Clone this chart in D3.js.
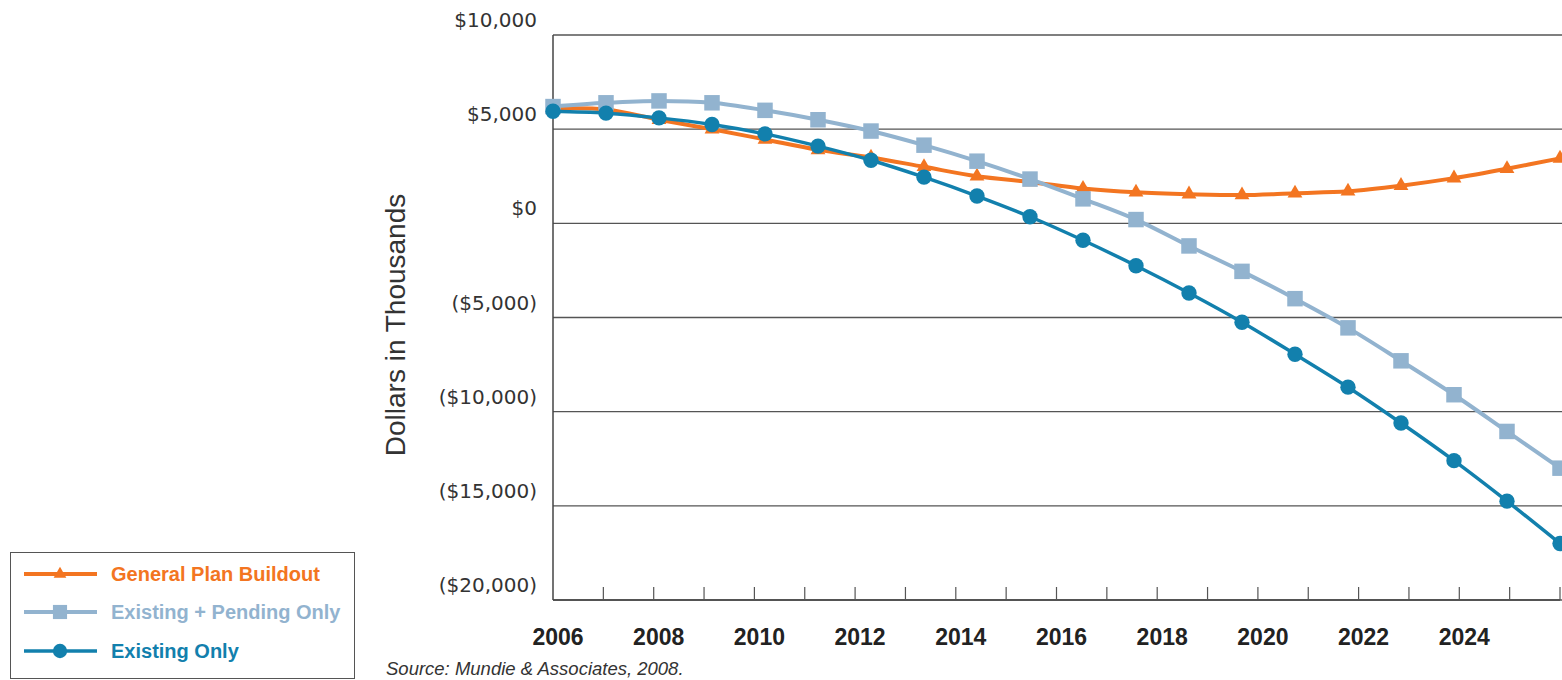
<!DOCTYPE html>
<html>
<head>
<meta charset="utf-8">
<script src="https://cdn.jsdelivr.net/npm/d3@7"></script>
<style>
  body { margin: 0; background: #fff; }
  svg { display: block; }
</style>
</head>
<body>
<div id="chart"></div>
<script>
// données (milliers de dollars)
const years = d3.range(2006, 2026);
const generalPlan = [6100, 6050, 5500, 5000, 4450, 3900, 3500, 3000, 2500, 2200,
                     1850, 1650, 1550, 1500, 1600, 1700, 2000, 2400, 2900, 3450];
const existingPending = [6200, 6400, 6500, 6400, 6000, 5500, 4900, 4150, 3300, 2350,
                         1300, 200, -1200, -2550, -4000, -5550, -7300, -9100, -11050, -13000];
const existingOnly = [5950, 5850, 5600, 5250, 4750, 4100, 3350, 2450, 1450, 350,
                      -900, -2250, -3700, -5250, -6950, -8700, -10600, -12600, -14750, -17000];
const yTicks = [10000, 5000, 0, -5000, -10000, -15000, -20000];
const yearLabels = [2006, 2008, 2010, 2012, 2014, 2016, 2018, 2020, 2022, 2024];

const series = [
  { name: 'General Plan Buildout', values: generalPlan, color: '#f37521', symbol: d3.symbolTriangle, size: 95, legendSize: 70, width: 4 },
  { name: 'Existing + Pending Only', values: existingPending, color: '#92b3cf', symbol: d3.symbolSquare, size: 240, legendSize: 200, width: 4 },
  { name: 'Existing Only', values: existingOnly, color: '#1280ad', symbol: d3.symbolCircle, size: 185, legendSize: 160, width: 3.5 }
];

const W = 1562, H = 680;
const plotL = 553, plotR = 1560, plotT = 35, plotB = 600;

const svg = d3.select('#chart').append('svg')
    .attr('width', W)
    .attr('height', H);

// échelles
const x = d3.scalePoint().domain(years).range([plotL, plotR]);
const xTick = d3.scaleLinear().domain([2006, 2026]).range([plotL, plotR]);
const y = d3.scaleLinear().domain([-20000, 10000]).range([plotB, plotT]);

const fmt = v => v < 0 ? `($${d3.format(',')(-v)})` : `$${d3.format(',')(v)}`;

// grille horizontale
svg.append('g')
  .selectAll('line')
  .data(yTicks)
  .enter().append('line')
    .attr('x1', plotL).attr('x2', W)
    .attr('y1', d => y(d)).attr('y2', d => y(d))
    .attr('stroke', '#555')
    .attr('stroke-width', 1.4);

// axe vertical
svg.append('line')
  .attr('x1', plotL).attr('x2', plotL)
  .attr('y1', plotT).attr('y2', plotB)
  .attr('stroke', '#444')
  .attr('stroke-width', 1.5);

// axe horizontal avec graduations vers le haut
svg.append('line')
  .attr('x1', plotL).attr('x2', plotR)
  .attr('y1', plotB).attr('y2', plotB)
  .attr('stroke', '#444')
  .attr('stroke-width', 1.5);

svg.append('g')
  .selectAll('line')
  .data(d3.range(2007, 2027))
  .enter().append('line')
    .attr('x1', d => xTick(d)).attr('x2', d => xTick(d))
    .attr('y1', plotB).attr('y2', plotB - 13)
    .attr('stroke', '#555')
    .attr('stroke-width', 1.2);

// étiquettes Y
svg.append('g')
  .selectAll('text')
  .data(yTicks)
  .enter().append('text')
    .attr('x', 537)
    .attr('y', d => y(d) - 8)
    .attr('text-anchor', 'end')
    .attr('font-family', 'DejaVu Sans')
    .attr('font-size', 20)
    .attr('fill', '#333')
    .text(fmt);

// titre Y
svg.append('text')
  .attr('transform', 'translate(405, 325) rotate(-90)')
  .attr('text-anchor', 'middle')
  .attr('font-family', 'Liberation Sans')
  .attr('font-size', 28)
  .attr('fill', '#333')
  .text('Dollars in Thousands');

// années
svg.append('g')
  .selectAll('text')
  .data(yearLabels)
  .enter().append('text')
    .attr('x', d => xTick(d) + 5)
    .attr('y', 645)
    .attr('text-anchor', 'middle')
    .attr('font-family', 'Liberation Sans')
    .attr('font-weight', 'bold')
    .attr('font-size', 23)
    .attr('fill', '#222')
    .text(d => d);

// lignes et marqueurs
const line = d3.line()
  .x((d, i) => x(years[i]))
  .y(d => y(d))
  .curve(d3.curveCatmullRom);

series.forEach(s => {
  const g = svg.append('g');
  g.append('path')
    .attr('d', line(s.values))
    .attr('fill', 'none')
    .attr('stroke', s.color)
    .attr('stroke-width', s.width);
  g.selectAll('path.pt')
    .data(s.values)
    .enter().append('path')
      .attr('class', 'pt')
      .attr('transform', (d, i) => `translate(${x(years[i])},${y(d)})`)
      .attr('d', d3.symbol().type(s.symbol).size(s.size))
      .attr('fill', s.color);
});

// légende
const legend = svg.append('g');
legend.append('rect')
  .attr('x', 10.5).attr('y', 552.5)
  .attr('width', 344).attr('height', 126)
  .attr('fill', '#fff')
  .attr('stroke', '#555')
  .attr('stroke-width', 1);

const legendY = [574, 612, 651];
series.forEach((s, i) => {
  const ly = legendY[i];
  legend.append('line')
    .attr('x1', 24).attr('x2', 97)
    .attr('y1', ly).attr('y2', ly)
    .attr('stroke', s.color)
    .attr('stroke-width', s.width);
  legend.append('path')
    .attr('transform', `translate(60,${ly})`)
    .attr('d', d3.symbol().type(s.symbol).size(s.legendSize))
    .attr('fill', s.color);
  legend.append('text')
    .attr('x', 111)
    .attr('y', ly + 7)
    .attr('font-family', 'Liberation Sans')
    .attr('font-weight', 'bold')
    .attr('font-size', 20)
    .attr('fill', s.color)
    .text(s.name);
});

// source
svg.append('text')
  .attr('x', 386)
  .attr('y', 675)
  .attr('font-family', 'Liberation Sans')
  .attr('font-style', 'italic')
  .attr('font-size', 18.5)
  .attr('fill', '#333')
  .text('Source: Mundie & Associates, 2008.');
</script>
</body>
</html>
